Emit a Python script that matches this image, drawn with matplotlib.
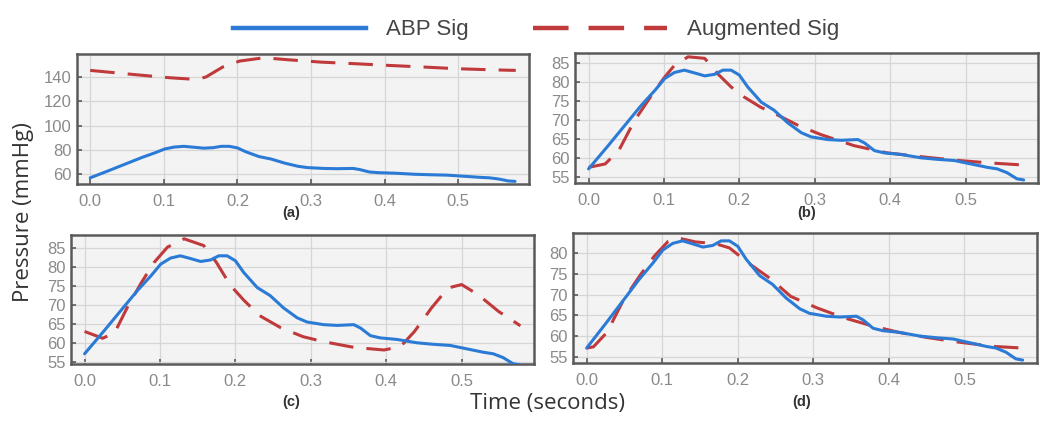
import matplotlib
matplotlib.use("Agg")
import matplotlib.pyplot as plt
from matplotlib.lines import Line2D

# ABP signal (same in every panel)
t_abp = [0.0, 0.026, 0.048, 0.070, 0.088, 0.101, 0.114, 0.127, 0.140, 0.154, 0.167,
         0.178, 0.189, 0.200, 0.211, 0.229, 0.246, 0.264, 0.282, 0.295, 0.317,
         0.335, 0.357, 0.366, 0.379, 0.392, 0.414, 0.441, 0.463, 0.485, 0.507,
         0.529, 0.542, 0.555, 0.568, 0.577]
abp = [57.1, 63.2, 68.5, 73.8, 77.7, 80.8, 82.4, 83.0, 82.3, 81.5, 81.9,
       83.0, 83.0, 81.7, 78.6, 74.6, 72.5, 69.2, 66.6, 65.5, 64.8,
       64.6, 64.8, 63.9, 61.9, 61.3, 60.9, 60.0, 59.6, 59.3, 58.4,
       57.5, 57.1, 56.1, 54.5, 54.2]

# augmented signals
t_aug_a = [0.0, 0.061, 0.107, 0.143, 0.157, 0.180, 0.203, 0.236, 0.268, 0.314,
           0.360, 0.406, 0.452, 0.498, 0.544, 0.578]
aug_a = [145.5, 142.0, 139.5, 138.1, 140.0, 148.3, 153.2, 155.9, 154.3, 152.3,
         151.0, 149.6, 148.3, 146.9, 146.0, 145.5]

t_aug_b = [0.0, 0.022, 0.040, 0.061, 0.088, 0.101, 0.114, 0.132, 0.154, 0.171,
           0.189, 0.206, 0.228, 0.251, 0.278, 0.308, 0.352, 0.396, 0.441, 0.485,
           0.529, 0.578]
aug_b = [57.5, 58.4, 61.9, 69.8, 77.7, 81.2, 84.3, 86.5, 86.1, 82.1,
         78.6, 76.0, 73.3, 71.2, 68.5, 66.1, 63.2, 61.3, 60.3, 59.4,
         58.7, 58.1]

t_aug_c = [0.0, 0.024, 0.040, 0.057, 0.075, 0.092, 0.110, 0.132, 0.158, 0.175,
           0.193, 0.211, 0.232, 0.260, 0.290, 0.317, 0.357, 0.397, 0.419, 0.4375,
           0.460, 0.482, 0.500, 0.522, 0.549, 0.578]
aug_c = [63.0, 61.2, 62.7, 69.5, 75.8, 81.2, 85.3, 87.5, 85.7, 81.2,
         75.3, 71.3, 67.2, 64.0, 61.6, 60.3, 58.8, 58.1, 59.0, 63.0,
         69.2, 74.5, 75.4, 72.7, 68.3, 64.5]

t_aug_d = [0.0, 0.009, 0.027, 0.049, 0.072, 0.090, 0.108, 0.121, 0.144, 0.171,
           0.189, 0.216, 0.243, 0.270, 0.305, 0.341, 0.377, 0.413, 0.449, 0.494,
           0.539, 0.578]
aug_d = [57.1, 57.4, 60.9, 68.8, 75.0, 79.4, 82.9, 83.7, 82.75, 82.3,
         81.3, 77.4, 73.9, 69.6, 66.8, 64.4, 62.5, 60.9, 59.7, 58.5,
         57.5, 57.1]

panel_labels = ["(a)", "(b)", "(c)", "(d)"]
x_ticks = [0.0, 0.1, 0.2, 0.3, 0.4, 0.5]
y_ticks = [[60, 80, 100, 120, 140],
           [55, 60, 65, 70, 75, 80, 85],
           [55, 60, 65, 70, 75, 80, 85],
           [55, 60, 65, 70, 75, 80]]
y_lims = [(52, 159), (53.4, 87.5), (54.4, 88.5), (53.5, 84.9)]

BLUE = "#2b7bd6"
RED = "#c0393b"
W, H = 1050, 429

# axes boxes in pixels: left, right, top, bottom
boxes = [(77, 529, 54, 184), (575, 1038, 53, 183),
         (71, 534, 235, 364), (573, 1037, 233, 363)]
label_pos = [(291, 213), (807, 213), (291, 402), (802, 402)]

aug_t = [t_aug_a, t_aug_b, t_aug_c, t_aug_d]
aug_v = [aug_a, aug_b, aug_c, aug_d]

plt.rcParams["font.family"] = ["Liberation Sans", "DejaVu Sans"]

fig = plt.figure(figsize=(W / 100, H / 100), dpi=100)

for i, (l, r, t, b) in enumerate(boxes):
    ax = fig.add_axes([l / W, 1 - b / H, (r - l) / W, (b - t) / H])
    ax.set_facecolor("#f3f3f3")
    ax.plot(t_abp, abp, color=BLUE, lw=2.2, solid_capstyle="round", zorder=3)
    ax.plot(aug_t[i], aug_v[i], color=RED, lw=2.2, dashes=(8, 4.3), zorder=2)
    ax.set_xlim(-0.018, 0.596)
    ax.set_ylim(*y_lims[i])
    ax.set_xticks(x_ticks)
    ax.set_xticklabels([f"{v:.1f}" for v in x_ticks])
    ax.set_yticks(y_ticks[i])
    ax.grid(True, color="#d6d6d6", lw=0.9)
    ax.set_axisbelow(True)
    for s in ax.spines.values():
        s.set_color("#5a5a5a")
        s.set_linewidth(1.8)
    ax.tick_params(direction="in", length=3.5, width=1.2, color="#5a5a5a",
                   labelcolor="#8a8a8a", labelsize=12)
    ax.tick_params(axis="x", pad=7)
    ax.tick_params(axis="y", pad=4)
    lx, ly = label_pos[i]
    fig.text(lx / W, 1 - ly / H, panel_labels[i], ha="center", va="center",
             fontsize=10.5, fontweight="bold", color="#333333")

fig.text(24 / W, 1 - 212 / H, "Pressure (mmHg)", rotation=90, ha="center",
         va="center", fontsize=16, color="#333333",
         family=["Open Sans", "DejaVu Sans"])
fig.text(548 / W, 1 - 403 / H, "Time (seconds)", ha="center", va="center",
         fontsize=16, color="#333333", family=["Open Sans", "DejaVu Sans"])

handles = [Line2D([], [], color=BLUE, lw=3.2),
           Line2D([], [], color=RED, lw=3.2, dashes=(8, 4.5))]
fig.legend(handles, ["ABP Sig", "Augmented Sig"], loc="center",
           bbox_to_anchor=(536 / W, 1 - 30 / H), ncol=2, frameon=False,
           fontsize=16, handlelength=6, handletextpad=0.9, columnspacing=2.9,
           labelcolor="#444444")

fig.savefig("out.png", dpi=100)
